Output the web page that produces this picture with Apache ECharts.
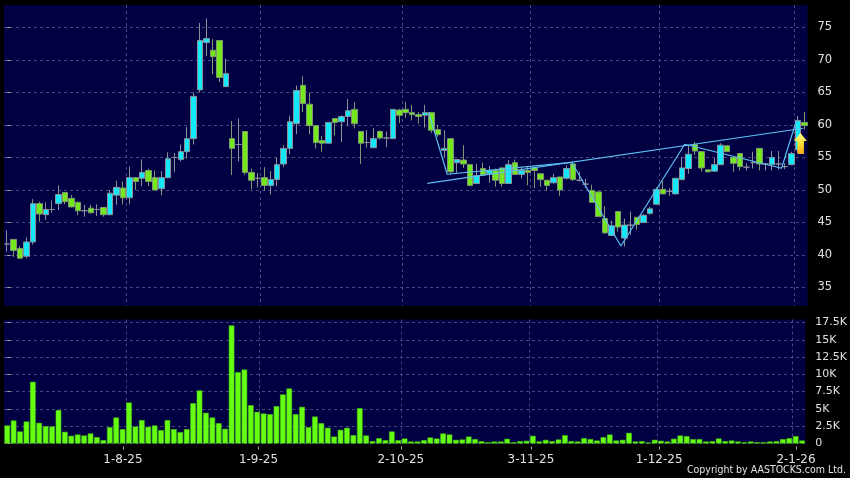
<!DOCTYPE html>
<html><head><meta charset="utf-8">
<style>html,body{margin:0;padding:0;background:#000}#c{width:850px;height:478px}</style>
<script src="https://cdn.jsdelivr.net/npm/echarts@6/dist/echarts.min.js"></script>
</head><body><div id="c"></div>
<script>
const opens = [41.7,42.4,41,39.8,42,47.9,46.2,47,47.9,49.6,
48.7,48.1,46.8,47.2,47,47.3,46.2,49.2,50.3,48.8,
51.9,51.8,53,51.9,50.2,51.9,55,54.7,55.9,57.9,
65.4,72.7,71.5,73,65.9,57.9,57,59,52.7,51.8,
51.9,50.7,51.6,54,56.4,60.2,66.1,63.2,59.9,57.6,
57.2,61,60.5,61.3,62.4,59,57.3,56.5,59,58,
57.9,62.3,62.4,61.9,61.6,61.5,61.9,59.3,56.1,57.9,
54.2,54.6,53.9,51,53.3,52.5,53,53.4,51,54.2,
52.4,53,53.4,52.5,51.5,51.1,52,51.8,54,51.5,
50.9,49.9,49.7,45.6,43,46.7,42.6,44.6,45.8,45,
46.4,47.8,50.1,49.8,49.4,51.6,53.3,57,55.9,53.1,
52.9,53.9,56.8,55,55.6,53.5,54.2,56.4,54,53.9,
54,53.6,53.9,56.2,60.4];
const closes = [41.7,40.7,39.5,42,47.9,46.3,47,47,49.3,48.2,
47.4,46.8,46.8,46.5,47,46.2,49.5,50.4,48.8,51.9,
51.3,52.7,51.3,50,51.9,54.8,55,55.9,57.9,64.4,
73,73.3,70.5,67.3,67.9,56.4,57,52.7,51.5,51.8,
50.7,51.6,53.9,56.4,60.5,65.3,63.3,59.9,57.3,57.2,
60.4,60.4,61.3,62.2,60.2,57.2,57.3,57.9,58,58,
62.4,61.5,61.9,61.6,61.3,61.9,59.2,58.5,56.4,52.8,
54.7,54,50.7,52.2,52.3,53,51.5,51,53.9,52.4,
53,52.7,53,51.6,50.7,51.9,50,53.3,51.6,51.5,
50.9,48.1,45.9,43.4,44.5,44.3,44.6,44.6,44.7,46.1,
47.1,50.1,49.4,49.8,51.8,53.4,55.5,56,53.4,52.8,
53.9,56.9,55.9,54.1,53.6,53.5,54.2,54,54,55,
54,53.6,55.6,60.7,59.9];
const lows = [40.5,39.7,39.4,39.5,41.6,45.1,45.4,46.5,46.9,47.8,
47.3,46.1,45.9,46.4,46,45.9,46.1,47.7,47.8,47.8,
50,50.6,50.6,50,49.2,51.8,52.8,54.4,54.8,57,
65,70.6,67.8,66.6,65.9,52.3,54.4,52.3,50.1,50.4,
49.9,49.3,50.6,53.5,55.5,58.6,62,58.6,56.4,55.9,
57.1,58.4,57.4,59.9,59.5,54,56.5,56.5,57.8,56.6,
57.9,60.3,61.1,60.7,60.2,59.6,58.8,58.2,55,52.4,
52.6,53.4,50.6,51,52.3,51.1,50.5,50.5,51,52.3,
51.8,50.7,50.3,50.5,49.9,51,49.1,51.6,51.4,51.3,
50.3,48,45.9,43.3,42.9,43.6,41.3,43.1,43.9,45,
46.2,47.7,49.4,49.1,49.3,51.5,52.5,55.4,52.8,52.7,
52.8,53.9,55.9,52.8,53,53,53.3,53,53,53,
53.1,53.2,53.8,55.8,59.3];
const highs = [43.8,42.4,41.4,42.7,48.6,48.2,48.1,48.4,50.7,49.7,
49.2,48.2,47.7,47.7,47.8,47.4,50,51.4,51.3,53.6,
52,54.7,53.3,53,52.9,55.8,55.7,57,59.7,65,
75.7,76.4,73.2,73,70.2,60.6,61,59,53.3,52.6,
53.5,52.9,55,56.9,61.4,66.1,67.5,65,59.9,58.3,
60.4,61,61.5,64,63.5,59,59.2,59.5,59.2,59,
62.4,62.5,63.5,63.1,62,63.1,61.9,60,59.2,57.9,
54.7,56.9,53.9,54,54.2,53.7,53.3,53.4,54.6,54.7,
53.5,53.6,53.6,52.5,51.5,52.5,52,53.8,54.3,52.8,
51.7,50.8,49.7,47.5,45.3,46.7,45.6,46.7,45.8,46.3,
47.4,50.4,51.4,50.3,51.8,55.1,56.9,57.4,55.9,53.1,
54.9,57.2,56.8,55.1,55.6,54.1,55.9,56.4,54.1,56,
56,54.1,55.9,61.4,62];
const volumes = [2.6,3.33,1.74,3.18,8.92,2.99,2.5,2.46,4.82,1.69,
1.11,1.3,1.16,1.45,0.92,0.48,2.36,3.76,2.07,5.93,
2.46,3.38,2.41,2.6,1.93,3.38,2.07,1.64,2.07,5.83,
7.67,4.44,3.76,2.94,2.12,17.07,10.32,10.7,5.54,4.58,
4.34,4.24,5.4,7.09,7.96,4.24,5.3,2.36,3.9,2.94,
2.27,1.0,1.98,2.27,1.2,5.11,1.16,0.34,0.77,0.48,
1.74,0.48,0.72,0.29,0.29,0.48,0.87,0.72,1.45,1.3,
0.53,0.58,1.0,0.63,0.34,0.19,0.29,0.29,0.68,0.19,
0.34,0.39,1.11,0.29,0.53,0.34,0.58,1.2,0.34,0.29,
0.77,0.63,0.43,0.92,1.3,0.43,0.53,1.54,0.29,0.34,
0.14,0.53,0.39,0.29,0.68,1.16,1.06,0.63,0.63,0.29,
0.34,0.72,0.34,0.43,0.29,0.19,0.29,0.19,0.19,0.29,
0.34,0.63,0.77,1.06,0.43];
const sessions = opens.map((_, i) => String(i));
const dateLabels = ['1-8-25','1-9-25','2-10-25','3-11-25','1-12-25','2-1-26'];
const dateTickAt = [18.05,39.2,61.4,81.7,101.7,123.05];
const dateGridAt = [18.51,39.36,61.45,81.36,101.43,122.43];
const priceTicks = [35,40,45,50,55,60,65,70,75];
const volumeTicks = [0,2.5,5,7.5,10,12.5,15,17.5];
const zigzag = [[65.56,61.95],[68.45,52.42],[87.8,54.26],[95.47,41.38],[105.4,57.03],[120.47,53.34],[122.7,60.46]];
const trendLine = [[65.34,51.03],[123.83,59.5]];
const arrowAt = [[123.4,57.15]];
const copyright = 'Copyright by AASTOCKS.com Ltd.';

const GRID_BG = '#000042', DASH = '#47477e', TXT = '#e0e0e0', FONT = 'DejaVu Sans';
const candleRows = opens.map((o, i) => [o, closes[i], lows[i], highs[i]]);
const dashed = {show:true, lineStyle:{color:DASH, width:1, type:[3,3]}};
const hiddenCat = g => ({type:'category', gridIndex:g, data:sessions, show:false, boundaryGap:true});
const gridAxis = g => ({type:'value', gridIndex:g, min:-0.5, max:124.5, axisLine:{show:false},
  axisLabel:{show:false}, axisTick:{show:false, customValues:dateGridAt}, splitLine:dashed});

const chart = echarts.init(document.getElementById('c'), null, {renderer:'canvas'});
chart.setOption({
  animation:false,
  backgroundColor:'#000',
  grid:[
    {left:4, width:803.5, top:5, height:301, show:true, backgroundColor:GRID_BG, borderWidth:0},
    {left:4, width:803.5, top:319.5, height:124, show:true, backgroundColor:GRID_BG, borderWidth:0}
  ],
  xAxis:[
    hiddenCat(0), gridAxis(0), hiddenCat(1), gridAxis(1),
    {type:'value', gridIndex:1, min:-0.5, max:124.5, position:'bottom', offset:3,
     axisLine:{show:false},
     axisTick:{show:true, length:3, customValues:dateTickAt, lineStyle:{color:'#aaa'}},
     axisLabel:{show:true, customValues:dateTickAt, margin:7, color:TXT, fontFamily:FONT, fontSize:12,
       hideOverlap:false, showMinLabel:true, showMaxLabel:true,
       formatter:v => dateLabels[dateTickAt.indexOf(v)]},
     splitLine:{show:false}}
  ],
  yAxis:[
    {type:'value', gridIndex:0, position:'right', min:32.15, max:78.46, offset:4, scale:true,
     axisLine:{show:false},
     axisTick:{show:true, length:3, customValues:priceTicks, lineStyle:{color:'#aaa'}},
     axisLabel:{customValues:priceTicks, margin:6, color:TXT, fontFamily:FONT, fontSize:11.5, showMinLabel:true, showMaxLabel:true},
     splitLine:dashed},
    {type:'value', gridIndex:1, position:'right', min:0, max:17.93, offset:3,
     axisLine:{show:false},
     axisTick:{show:true, length:3, customValues:volumeTicks, lineStyle:{color:'#aaa'}},
     axisLabel:{customValues:volumeTicks, margin:7, color:TXT, fontFamily:FONT, fontSize:11, showMinLabel:true, showMaxLabel:true,
       formatter:v => v === 0 ? '0' : v + 'K'},
     splitLine:dashed}
  ],
  series:[
    {type:'candlestick', xAxisIndex:0, yAxisIndex:0, data:candleRows, barWidth:6, z:3,
     itemStyle:{color:'#12e8fa', color0:'#74e81c', borderColor:'#8a9299', borderColor0:'#7f9a70', borderColorDoji:'#8a8f9a', borderWidth:1}},
    {type:'bar', xAxisIndex:2, yAxisIndex:1, data:volumes, barWidth:5.6, z:3,
     itemStyle:{color:'#66ff12', borderColor:'#46c410', borderWidth:0.6}},
    {type:'line', xAxisIndex:1, yAxisIndex:0, data:zigzag, showSymbol:false, z:4,
     lineStyle:{color:'#5cc0f4', width:1.2}},
    {type:'line', xAxisIndex:1, yAxisIndex:0, data:trendLine, showSymbol:false, z:4,
     lineStyle:{color:'#5cc0f4', width:1.2}},
    {type:'scatter', xAxisIndex:1, yAxisIndex:0, data:arrowAt, z:5,
     symbol:'path://M6.5,0 L13,8 L10,8 L10,21 L3.5,21 L3.5,8 L0,8 Z', symbolSize:[13,21],
     itemStyle:{opacity:1, color:new echarts.graphic.LinearGradient(0,0,0,1,[{offset:0,color:'#ffff90'},{offset:0.5,color:'#ffe030'},{offset:1,color:'#f0a818'}])}}
  ],
  graphic:[{type:'text', right:4, top:465, style:{text:copyright, fill:TXT, font:'10.5px "DejaVu Sans Condensed"'}}]
});
</script></body></html>
